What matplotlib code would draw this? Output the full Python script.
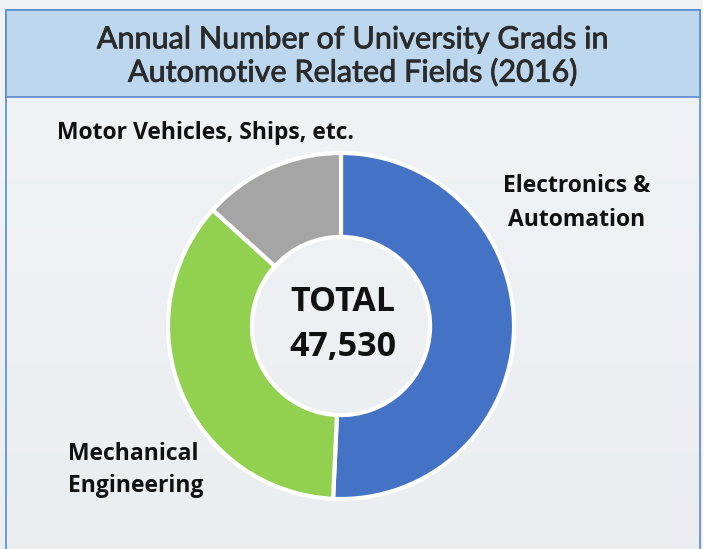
import matplotlib
matplotlib.use("Agg")
import matplotlib.pyplot as plt
from matplotlib.patches import Rectangle
import matplotlib.patheffects as pe
import numpy as np

# Graduates per field (2016)
categories = ["Electronics &\nAutomation", "Mechanical\nEngineering", "Motor Vehicles, Ships, etc."]
graduates = [24110, 17100, 6320]
colors = ["#4472C4", "#92D050", "#A5A5A5"]
title = "Annual Number of University Grads in\nAutomotive Related Fields (2016)"
total = sum(graduates)

W, H = 703, 549
fig = plt.figure(figsize=(W / 100, H / 100), dpi=100)
ax = fig.add_axes([0, 0, 1, 1])

# soft pale backdrop with a gentle vertical shading
grad = np.linspace(0, 1, 200)[:, None]
bg = np.array([0.945, 0.955, 0.968])[None, None, :] * (1 - 0.025 * grad[..., None])
ax.imshow(np.repeat(bg, 2, axis=1), extent=(0, W, H, 0), aspect="auto", zorder=0)

# outer frame and header band
ax.add_patch(Rectangle((6, 10), 694, 560, facecolor="none", edgecolor="#5B8BD0", lw=1.2, zorder=1))
ax.add_patch(Rectangle((6, 10), 694, 87, facecolor="#BDD7EE", edgecolor="#5B8BD0", lw=1.2, zorder=2))
ax.text(352, 56, title, ha="center", va="center", fontsize=22, family="Lato",
        color="#2B2B2B", linespacing=1.2, zorder=3,
        path_effects=[pe.withStroke(linewidth=0.6, foreground="#2B2B2B")])

# donut
cx, cy, r = 341, 326, 173
wedges, _ = ax.pie(graduates, colors=colors, startangle=90, counterclock=False,
                   center=(cx, -cy), radius=r,
                   wedgeprops=dict(width=r * 0.485, edgecolor="white", linewidth=3))
# pie draws in y-up coordinates; flip to the downward-y axis used here
for w in wedges:
    w.set_center((cx, cy))
    t1, t2 = w.theta1, w.theta2
    w.set_theta1(-t2)
    w.set_theta2(-t1)
    w.set_zorder(4)
ax.set_xlim(0, W)
ax.set_ylim(H, 0)
ax.set_aspect("equal")
ax.axis("off")

# centre total
ax.text(cx + 2, 302, "TOTAL", ha="center", va="center", fontsize=24.5, fontweight="bold",
        family="Open Sans", color="#111111", zorder=5)
ax.text(cx + 2, 347, f"{total:,}", ha="center", va="center", fontsize=24.5, fontweight="bold",
        family="Open Sans", color="#111111", zorder=5)

# category labels
lab = dict(fontsize=16.5, fontweight="bold", family="Open Sans", color="#111111",
           linespacing=1.5, zorder=5)
ax.text(577, 203, categories[0], ha="center", va="center", **lab)
ax.text(68, 470, categories[1], ha="left", va="center", **lab)
ax.text(205, 133, categories[2], ha="center", va="center", **lab)

fig.savefig("out.png", dpi=100)
